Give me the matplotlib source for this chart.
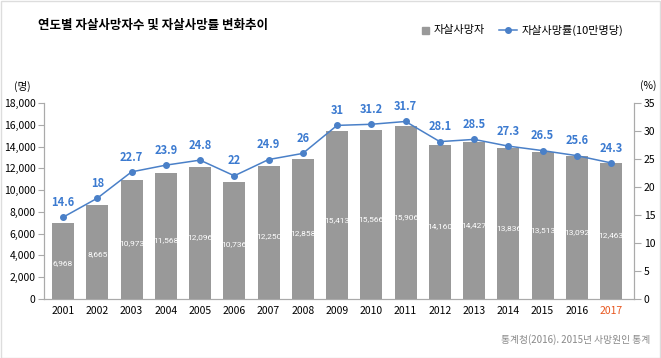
import matplotlib.pyplot as plt
import matplotlib.patches as patches
from matplotlib.lines import Line2D

plt.rcParams['font.family'] = ['Noto Sans CJK KR', 'DejaVu Sans']

# data
years = ['2001', '2002', '2003', '2004', '2005', '2006', '2007', '2008', '2009',
         '2010', '2011', '2012', '2013', '2014', '2015', '2016', '2017']
deaths = [6968, 8665, 10973, 11568, 12096, 10736, 12250, 12858, 15413,
          15566, 15906, 14160, 14427, 13836, 13513, 13092, 12463]
rates = [14.6, 18, 22.7, 23.9, 24.8, 22, 24.9, 26, 31,
         31.2, 31.7, 28.1, 28.5, 27.3, 26.5, 25.6, 24.3]
left_ticks = [0, 2000, 4000, 6000, 8000, 10000, 12000, 14000, 16000, 18000]
right_ticks = [0, 5, 10, 15, 20, 25, 30, 35]

bar_color = '#999999'
line_color = '#4a80c8'
label_blue = '#3b7ad0'
axis_grey = '#aaaaaa'

fig = plt.figure(figsize=(6.61, 3.58), dpi=100)
ax = fig.add_axes([0.0666, 0.1648, 0.8926, 0.5475])
ax2 = ax.twinx()

x = list(range(len(years)))
ax.bar(x, deaths, width=0.64, color=bar_color, zorder=2)
for i, v in enumerate(deaths):
    ax.text(i, v * 0.47, f'{v:,}', ha='center', va='center', color='white',
            fontsize=6, family=['Roboto', 'DejaVu Sans'], zorder=3)

ax.set_xlim(-0.555, 16.67)
ax.set_ylim(0, 18000)
ax.set_yticks(left_ticks)
ax.set_yticklabels([f'{t:,}' for t in left_ticks])
ax.set_xticks(x)
ax.set_xticklabels(years)
for lbl in ax.get_xticklabels():
    if lbl.get_text() == '2017':
        lbl.set_color('#e8561e')

ax2.plot(x, rates, color=line_color, lw=1.1, marker='o', ms=4, zorder=4)
for i, r in enumerate(rates):
    ax2.annotate(f'{r:g}', (i, r), xytext=(0, 6), textcoords='offset points',
                 ha='center', va='bottom', color=label_blue, fontsize=8,
                 fontweight='bold')
ax2.set_ylim(0, 35)
ax2.set_yticks(right_ticks)

for a in (ax, ax2):
    a.spines['top'].set_visible(False)
    for s in ('left', 'right', 'bottom'):
        a.spines[s].set_color(axis_grey)
        a.spines[s].set_linewidth(0.8)
ax.tick_params(axis='y', labelsize=7.5, length=4, color=axis_grey, pad=2)
ax.tick_params(axis='x', labelsize=7.5, length=0, pad=5)
ax2.tick_params(axis='y', labelsize=7.5, length=5, color=axis_grey, pad=2)
ax.set_zorder(ax2.get_zorder() - 1)
ax2.patch.set_visible(False)

# titles and units
fig.text(38 / 661, 1 - 25 / 358, '연도별 자살사망자수 및 자살사망률 변화추이',
         fontsize=9, fontweight='bold', va='center', ha='left')
fig.text(14 / 661, 1 - 86 / 358, '(명)', fontsize=7.5, va='center', ha='left')
fig.text(640 / 661, 1 - 86 / 358, '(%)', fontsize=7.5, va='center', ha='left')
fig.text(650 / 661, 1 - 340 / 358, '통계청(2016). 2015년 사망원인 통계',
         fontsize=7, color='#888888', va='center', ha='right')

# legend, drawn by hand
ly = 1 - 30 / 358
fig.patches.append(patches.Rectangle((422 / 661, ly - 3.5 / 358), 7 / 661, 7 / 358,
                                     transform=fig.transFigure, color=bar_color))
fig.text(434 / 661, ly, '자살사망자', fontsize=8, va='center', ha='left')
fig.lines.append(Line2D([499 / 661, 517 / 661], [ly, ly], transform=fig.transFigure,
                        color=line_color, lw=1.1))
fig.lines.append(Line2D([508 / 661], [ly], transform=fig.transFigure,
                        color=line_color, marker='o', ms=4))
fig.text(522 / 661, ly, '자살사망률(10만명당)', fontsize=8, va='center', ha='left')

# frame
fig.patches.append(patches.Rectangle((0.001, 0.001), 0.998, 0.997,
                                     transform=fig.transFigure, fill=False,
                                     edgecolor='#dddddd', lw=1))

plt.savefig('out.png', dpi=100)
